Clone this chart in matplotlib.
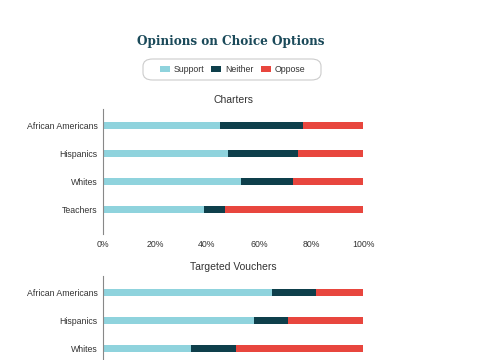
import matplotlib
matplotlib.use("Agg")
import matplotlib.pyplot as plt
from matplotlib.patches import Patch, FancyBboxPatch
from matplotlib.ticker import FuncFormatter

# Data (percent)
charter_groups = ["African Americans", "Hispanics", "Whites", "Teachers"]
charter_support = [45, 48, 53, 39]
charter_neither = [32, 27, 20, 8]
charter_oppose = [23, 25, 27, 53]

voucher_groups = ["African Americans", "Hispanics", "Whites"]
voucher_support = [65, 58, 34]
voucher_neither = [17, 13, 17]
voucher_oppose = [18, 29, 49]

x_ticks = [0, 20, 40, 60, 80, 100]
series_names = ["Support", "Neither", "Oppose"]
colors = ["#8fd3dd", "#0e3f4b", "#e8463e"]

W, H = 480, 360
fig = plt.figure(figsize=(4.8, 3.6), dpi=100)
fig.patch.set_facecolor("white")
FONT = "Liberation Sans"
TEXT = "#333333"


def px_axes(x0, y0, x1, y1):
    return fig.add_axes([x0 / W, 1 - y1 / H, (x1 - x0) / W, (y1 - y0) / H])


def draw(ax, groups, sup, nei, opp, title, show_xticks):
    y = list(range(len(groups)))
    h = 0.25
    ax.barh(y, sup, height=h, color=colors[0])
    ax.barh(y, nei, left=sup, height=h, color=colors[1])
    left3 = [a + b for a, b in zip(sup, nei)]
    ax.barh(y, opp, left=left3, height=h, color=colors[2])
    ax.set_xlim(0, 100)
    ax.set_ylim(3.86, -0.6)
    ax.set_yticks(y)
    ax.set_yticklabels(groups, fontsize=6.3, color=TEXT, family=FONT)
    ax.set_xticks(x_ticks)
    ax.xaxis.set_major_formatter(FuncFormatter(lambda v, p: f"{int(v)}%"))
    for lab in ax.get_xticklabels():
        lab.set_fontsize(6.3)
        lab.set_color(TEXT)
        lab.set_family(FONT)
    ax.tick_params(length=0, pad=4)
    if not show_xticks:
        ax.tick_params(axis="x", labelbottom=False)
    for s in ["top", "right", "bottom"]:
        ax.spines[s].set_visible(False)
    ax.spines["left"].set_color("#888888")
    ax.spines["left"].set_linewidth(0.8)
    ax.set_facecolor("none")
    ax.set_title(title, fontsize=7.5, color=TEXT, family=FONT, pad=4)


ax1 = px_axes(103, 109, 363, 234)
draw(ax1, charter_groups, charter_support, charter_neither, charter_oppose, "Charters", True)

ax2 = px_axes(103, 276, 363, 401)
draw(ax2, voucher_groups, voucher_support, voucher_neither, voucher_oppose, "Targeted Vouchers", False)

# Main title
fig.text(231 / W, 1 - 42 / H, "Opinions on Choice Options", ha="center", va="center",
         fontsize=9.6, fontweight="bold", fontstretch="condensed",
         color="#1b4a5a", family="DejaVu Serif")

# Legend box
box = FancyBboxPatch((143 / W, 1 - 80 / H), (321 - 143) / W, (80 - 59) / H,
                     boxstyle="round,pad=0,rounding_size=0.02",
                     transform=fig.transFigure, facecolor="white",
                     edgecolor="#cccccc", linewidth=0.8)
fig.patches.append(box)
handles = [Patch(facecolor=c, edgecolor="none") for c in colors]
leg = fig.legend(handles, series_names, loc="center", bbox_to_anchor=(232.5 / W, 1 - 69.5 / H),
                 ncol=3, frameon=False, handlelength=1.15, handleheight=0.6,
                 columnspacing=0.8, handletextpad=0.45,
                 prop={"family": FONT, "size": 6.3})
for t in leg.get_texts():
    t.set_color(TEXT)

fig.savefig("out.png", dpi=100, facecolor="white")
